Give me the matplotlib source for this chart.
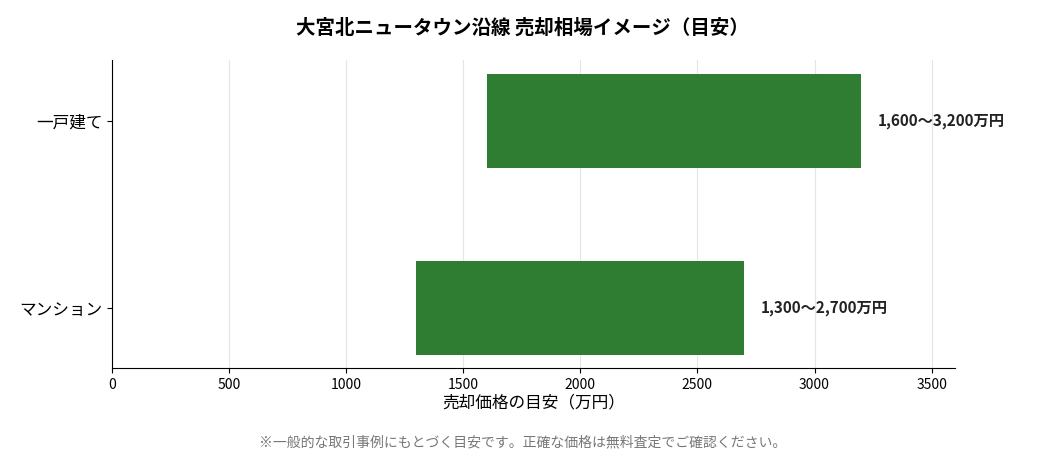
import matplotlib
matplotlib.use("Agg")
import matplotlib.pyplot as plt

plt.rcParams['font.family'] = ['Noto Sans CJK JP', 'DejaVu Sans']

categories = ["マンション", "一戸建て"]
low = [1300, 1600]
high = [2700, 3200]
labels = ["1,300〜2,700万円", "1,600〜3,200万円"]

fig = plt.figure(figsize=(10.45, 4.62), dpi=100)
ax = fig.add_axes([112/1045, 1-368/462, (955-112)/1045, (368-60)/462])
ys = list(range(len(categories)))
ax.barh(ys, [h - l for l, h in zip(low, high)], left=low, height=0.5, color="#2e7d32", zorder=3)
for y, h, t in zip(ys, high, labels):
    ax.text(h + 70, y, t, va="center", ha="left", fontsize=11, fontweight="bold", color="#222222")
ax.set_yticks(ys)
ax.set_yticklabels(categories, fontsize=12)
ax.set_xlim(0, 3600)
ax.set_ylim(-0.32, 1.326)
ax.set_xticks(range(0, 3501, 500))
ax.tick_params(axis='x', labelsize=10)
ax.grid(axis='x', color="#e5e5e5", linewidth=0.8, zorder=0)
for s in ["top", "right"]:
    ax.spines[s].set_visible(False)
ax.set_xlabel("売却価格の目安（万円）", fontsize=12, labelpad=2)
fig.text(0.5, 1-28/462, "大宮北ニュータウン沿線 売却相場イメージ（目安）", ha="center", va="center",
         fontsize=14, fontweight="bold")
fig.text(0.5, 1-442/462, "※一般的な取引事例にもとづく目安です。正確な価格は無料査定でご確認ください。",
         ha="center", va="center", fontsize=10, color="#777777")
fig.savefig("out.png", dpi=100)
